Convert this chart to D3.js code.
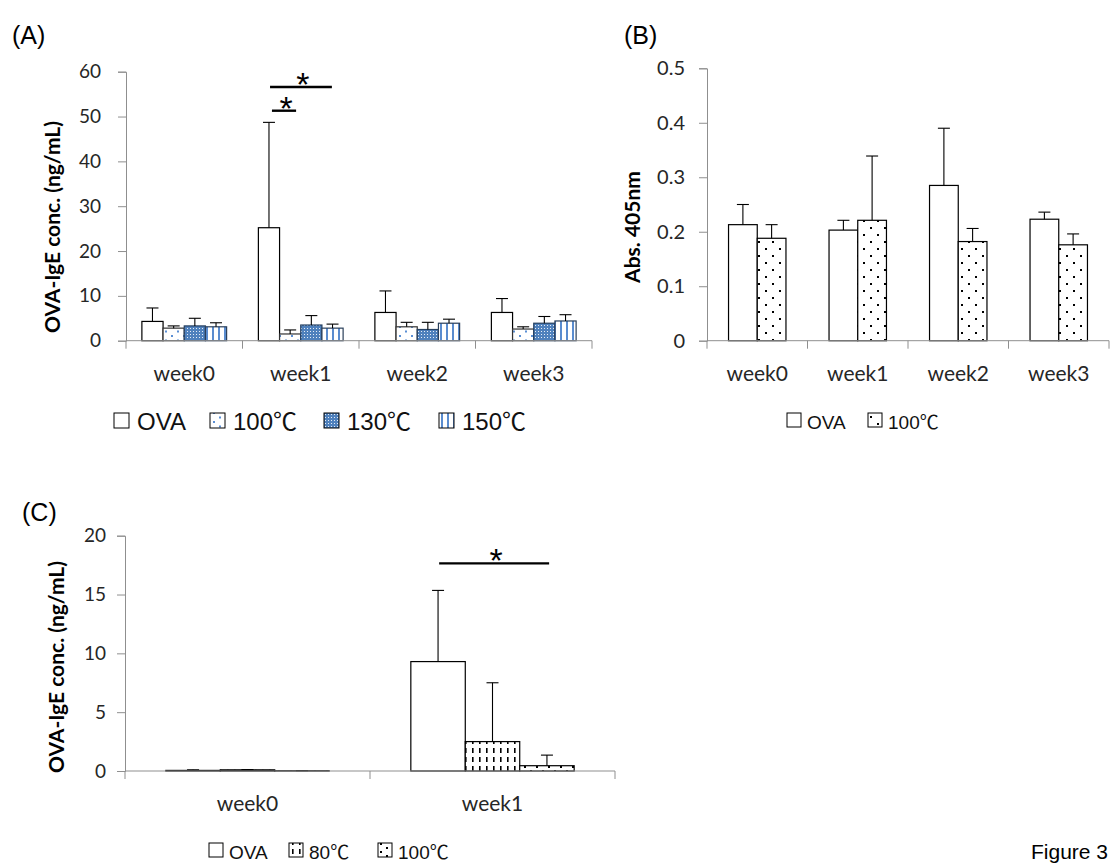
<!DOCTYPE html>
<html>
<head>
<meta charset="utf-8">
<script src="https://cdn.jsdelivr.net/npm/d3@7"></script>
<style>
  body { margin: 0; background: #fff; }
</style>
</head>
<body>
<svg id="fig" width="1113" height="865"></svg>
<script>
// ---- data ----
// (A) OVA-IgE, four groups
const weeksA = ['week0', 'week1', 'week2', 'week3'];
const groupsA = ['OVA', '100℃', '130℃', '150℃'];
const meanA = [
    [4.3, 2.8, 3.3, 3.1],
    [25.2, 1.5, 3.5, 2.8],
    [6.3, 3.1, 2.5, 3.9],
    [6.3, 2.6, 3.9, 4.4]
];
const sdA = [
    [3.0, 0.5, 1.7, 0.9],
    [23.5, 0.9, 2.1, 0.9],
    [4.8, 1.0, 1.6, 0.9],
    [3.1, 0.5, 1.5, 1.4]
];
const ticksA = [0, 10, 20, 30, 40, 50, 60];
// significance bars: bar-slot range inside the week group, height in data units
const sigA = [
    { week: 'week1', from: 0.55, to: 3.47, level: 56.6 },
    { week: 'week1', from: 0.64, to: 1.78, level: 51.3 }
];

// (B) Abs. 405nm
const weeksB = ['week0', 'week1', 'week2', 'week3'];
const groupsB = ['OVA', '100℃'];
const meanB = [
    [0.213, 0.188],
    [0.203, 0.221],
    [0.285, 0.182],
    [0.223, 0.176]
];
const sdB = [
    [0.037, 0.025],
    [0.018, 0.118],
    [0.105, 0.024],
    [0.013, 0.020]
];
const ticksB = [0, 0.1, 0.2, 0.3, 0.4, 0.5];

// (C) OVA-IgE, three groups
const weeksC = ['week0', 'week1'];
const groupsC = ['OVA', '80℃', '100℃'];
const meanC = [
    [0.05, 0.1, 0.02],
    [9.3, 2.5, 0.45]
];
const sdC = [
    [0.05, 0.02, 0.01],
    [6.05, 5.0, 0.9]
];
const ticksC = [0, 5, 10, 15, 20];
const sigC = [
    { week: 'week1', from: 0.52, to: 2.54, level: 17.65 }
];

// ---- drawing ----
const svg = d3.select('#fig');
const tickFont = 'Lato, "Open Sans", sans-serif';
const legendFont = '"Liberation Sans", Arial, "Noto Sans CJK JP", sans-serif';
const axisGrey = '#8f8f8f';
const textCol = '#262626';

// fill patterns
const defs = svg.append('defs');
function makePattern(id, w, h, bg, shapes) {
    const p = defs.append('pattern')
        .attr('id', id)
        .attr('patternUnits', 'userSpaceOnUse')
        .attr('width', w).attr('height', h);
    p.append('rect').attr('width', w).attr('height', h).attr('fill', bg);
    shapes.forEach(s => {
        p.append('rect')
            .attr('x', s[0]).attr('y', s[1])
            .attr('width', s[2]).attr('height', s[3])
            .attr('fill', s[4]);
    });
}
makePattern('aDots', 12, 9, '#fff', [[3, 2, 2, 2, '#5b8fd4'], [9, 6.5, 2, 2, '#5b8fd4']]);
makePattern('aGrid', 3, 3, '#4f81bd', [[1, 1, 1, 1, 'rgba(255,255,255,0.85)']]);
makePattern('aStripes', 6, 4, '#fff', [[2, 0, 2, 4, '#5a8ccf']]);
makePattern('bDots', 14, 14, '#fff', [[2, 3, 2, 2, '#000'], [9, 10, 2, 2, '#000']]);
makePattern('cDash', 7, 9, '#fff', [[3, 1, 1.6, 5, '#000']]);
makePattern('cDots', 12, 8, '#fff', [[2, 2, 2, 2, '#000'], [8, 6, 2, 2, '#000']]);

function drawPanel(p) {
    const g = svg.append('g');

    const y = d3.scaleLinear().domain([0, p.ticks[p.ticks.length - 1]]).range([p.yBottom, p.yTop]);
    const x0 = d3.scaleBand().domain(p.weeks).range([p.xLeft, p.xRight]).padding(0);
    const x1 = d3.scaleBand().domain(p.groups).range([0, x0.bandwidth()])
        .paddingInner(0).paddingOuter(0.75);

    // y axis
    const yAxis = d3.axisLeft(y)
        .tickValues(p.ticks)
        .tickSize(8)
        .tickPadding(p.tickPad)
        .tickFormat(p.fmt);
    const ya = g.append('g')
        .attr('transform', `translate(${p.xLeft},0)`)
        .call(yAxis);
    ya.select('.domain').attr('stroke', axisGrey);
    ya.selectAll('.tick line').attr('stroke', axisGrey);
    ya.selectAll('.tick text')
        .attr('font-family', tickFont)
        .attr('font-size', p.tickSize)
        .attr('fill', textCol);

    // bars
    const bars = [];
    p.weeks.forEach((w, i) => {
        p.groups.forEach((grp, j) => {
            bars.push({ week: w, group: grp, j: j, mean: p.mean[i][j], sd: p.sd[i][j] });
        });
    });

    g.selectAll('.bar')
        .data(bars)
        .enter().append('rect')
        .attr('class', 'bar')
        .attr('x', d => x0(d.week) + x1(d.group))
        .attr('width', x1.bandwidth())
        .attr('y', d => y(d.mean))
        .attr('height', d => y(0) - y(d.mean))
        .attr('fill', d => p.fills[d.j])
        .attr('stroke', d => p.strokes[d.j])
        .attr('stroke-width', 1.2);

    // error bars (upper only)
    const err = g.selectAll('.err')
        .data(bars)
        .enter().append('g')
        .attr('class', 'err');
    err.append('line')
        .attr('x1', d => x0(d.week) + x1(d.group) + x1.bandwidth() / 2)
        .attr('x2', d => x0(d.week) + x1(d.group) + x1.bandwidth() / 2)
        .attr('y1', d => y(d.mean))
        .attr('y2', d => y(d.mean + d.sd))
        .attr('stroke', '#000').attr('stroke-width', 1.1);
    err.append('line')
        .attr('x1', d => x0(d.week) + x1(d.group) + x1.bandwidth() / 2 - 6)
        .attr('x2', d => x0(d.week) + x1(d.group) + x1.bandwidth() / 2 + 6)
        .attr('y1', d => y(d.mean + d.sd))
        .attr('y2', d => y(d.mean + d.sd))
        .attr('stroke', '#000').attr('stroke-width', 1.1);

    // x axis: baseline and category boundary ticks
    g.append('line')
        .attr('x1', p.xLeft).attr('x2', p.xRight)
        .attr('y1', y(0)).attr('y2', y(0))
        .attr('stroke', axisGrey);
    const bounds = p.weeks.map(w => x0(w)).concat([p.xRight]);
    g.selectAll('.xtick')
        .data(bounds)
        .enter().append('line')
        .attr('x1', d => d).attr('x2', d => d)
        .attr('y1', y(0)).attr('y2', y(0) + 8)
        .attr('stroke', axisGrey);
    g.selectAll('.xlabel')
        .data(p.weeks)
        .enter().append('text')
        .attr('x', d => x0(d) + x0.bandwidth() / 2)
        .attr('y', p.weekBase)
        .attr('text-anchor', 'middle')
        .attr('font-family', tickFont)
        .attr('font-size', 21)
        .attr('fill', textCol)
        .text(d => d);

    // y title
    g.append('text')
        .attr('transform', `translate(${p.titleX},${p.titleY}) rotate(-90)`)
        .attr('text-anchor', 'middle')
        .attr('dy', '0.35em')
        .attr('font-family', tickFont)
        .attr('font-weight', 'bold')
        .attr('font-size', 21)
        .attr('fill', '#000')
        .text(p.title);

    // significance
    (p.sig || []).forEach(s => {
        const start = x0(s.week) + x1(p.groups[0]);
        const xa = start + s.from * x1.step();
        const xb = start + s.to * x1.step();
        g.append('line')
            .attr('x1', xa).attr('x2', xb)
            .attr('y1', y(s.level)).attr('y2', y(s.level))
            .attr('stroke', '#000').attr('stroke-width', 2.4);
        g.append('text')
            .attr('x', (xa + xb) / 2 + 2)
            .attr('y', y(s.level) + 9)
            .attr('text-anchor', 'middle')
            .attr('font-family', legendFont)
            .attr('font-size', 34)
            .text('*');
    });

    // panel letter
    g.append('text')
        .attr('x', p.letterX).attr('y', p.letterY)
        .attr('font-family', legendFont)
        .attr('font-size', 25)
        .attr('fill', '#000')
        .text(p.letter);

    // legend
    const lg = g.selectAll('.leg')
        .data(p.groups)
        .enter().append('g')
        .attr('transform', (d, i) => `translate(${p.legX[i]},${p.legY})`);
    lg.append('rect')
        .attr('width', p.legBox).attr('height', p.legBox)
        .attr('y', -p.legBox)
        .attr('fill', (d, i) => p.fills[i])
        .attr('stroke', '#000')
        .attr('stroke-width', 1);
    lg.append('text')
        .attr('x', p.legBox + p.legGap)
        .attr('y', 2)
        .attr('font-family', legendFont)
        .attr('font-size', p.legSize)
        .attr('fill', '#111')
        .text(d => d);
}

drawPanel({
    letter: '(A)', letterX: 12, letterY: 44,
    weeks: weeksA, groups: groupsA, mean: meanA, sd: sdA, ticks: ticksA, sig: sigA,
    fmt: d3.format('d'),
    xLeft: 126, xRight: 592, yTop: 71.7, yBottom: 340.7,
    tickSize: 19, tickPad: 17, weekBase: 381,
    title: 'OVA-IgE conc. (ng/mL)', titleX: 53, titleY: 227,
    fills: ['#fff', 'url(#aDots)', 'url(#aGrid)', 'url(#aStripes)'],
    strokes: ['#000', '#333', '#243f60', '#2a3f5a'],
    legX: [114, 210, 324, 439], legY: 428, legBox: 15, legGap: 8, legSize: 24
});

drawPanel({
    letter: '(B)', letterX: 624, letterY: 44,
    weeks: weeksB, groups: groupsB, mean: meanB, sd: sdB, ticks: ticksB,
    fmt: d => d === 0 ? '0' : d3.format('.1f')(d),
    xLeft: 707, xRight: 1109, yTop: 68.3, yBottom: 340.7,
    tickSize: 20, tickPad: 14, weekBase: 381,
    title: 'Abs. 405nm', titleX: 633, titleY: 227,
    fills: ['#fff', 'url(#bDots)'],
    strokes: ['#000', '#000'],
    legX: [787, 868], legY: 427, legBox: 14, legGap: 6, legSize: 19
});

drawPanel({
    letter: '(C)', letterX: 22, letterY: 521,
    weeks: weeksC, groups: groupsC, mean: meanC, sd: sdC, ticks: ticksC, sig: sigC,
    fmt: d3.format('d'),
    xLeft: 125, xRight: 615, yTop: 535.7, yBottom: 771,
    tickSize: 19, tickPad: 11, weekBase: 811,
    title: 'OVA-IgE conc. (ng/mL)', titleX: 57, titleY: 667,
    fills: ['#fff', 'url(#cDash)', 'url(#cDots)'],
    strokes: ['#000', '#000', '#000'],
    legX: [209, 289, 378], legY: 857, legBox: 14, legGap: 6, legSize: 19
});

svg.append('text')
    .attr('x', 1031).attr('y', 859)
    .attr('font-family', legendFont)
    .attr('font-size', 21)
    .attr('fill', '#000')
    .text('Figure 3');
</script>
</body>
</html>
